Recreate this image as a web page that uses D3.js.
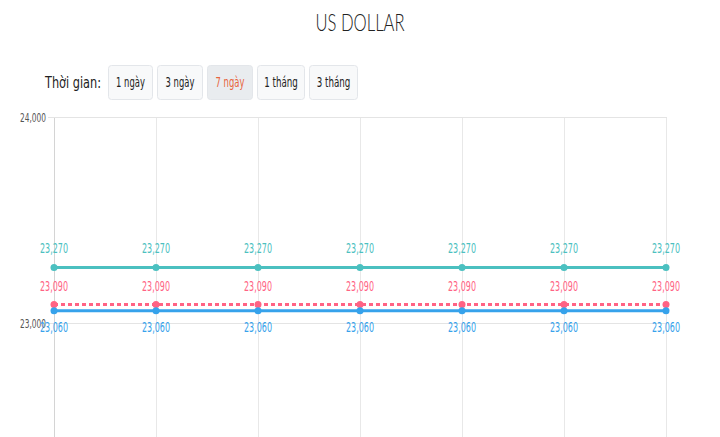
<!DOCTYPE html>
<html>
<head>
<meta charset="utf-8">
<script src="https://cdn.jsdelivr.net/npm/d3@7"></script>
<style>
  body { margin: 0; background: #fff; }
  svg { display: block; font-family: "DejaVu Sans Condensed", "DejaVu Sans", sans-serif; font-stretch: condensed; }
</style>
</head>
<body>
<svg id="chart"></svg>
<script>
// values
const days = ["d1", "d2", "d3", "d4", "d5", "d6", "d7"];
const sellValues = [23270, 23270, 23270, 23270, 23270, 23270, 23270];
const transferValues = [23090, 23090, 23090, 23090, 23090, 23090, 23090];
const buyValues = [23060, 23060, 23060, 23060, 23060, 23060, 23060];
const yTicks = [23000, 24000];
const periods = ["1 ngày", "3 ngày", "7 ngày", "1 tháng", "3 tháng"];
const activePeriod = "7 ngày";

const WIDTH = 720;
const HEIGHT = 437;

let svg = d3.select("#chart")
    .attr("width", WIDTH)
    .attr("height", HEIGHT);

// squeeze text to the narrow look of the original font
function narrow(sel, perChar) {
    sel.attr("textLength", d => String(d).length * perChar)
        .attr("lengthAdjust", "spacingAndGlyphs");
}

// title
svg.append("text")
    .attr("x", 360)
    .attr("y", 31)
    .attr("text-anchor", "middle")
    .attr("textLength", 89)
    .attr("lengthAdjust", "spacingAndGlyphs")
    .style("font-family", "Lato")
    .style("font-weight", 300)
    .style("font-size", "23px")
    .style("fill", "#222")
    .text("US DOLLAR");

// period buttons
svg.append("text")
    .attr("x", 45)
    .attr("y", 88)
    .attr("textLength", 56)
    .attr("lengthAdjust", "spacingAndGlyphs")
    .style("font-size", "16px")
    .style("fill", "#222")
    .text("Thời gian:");

const btnWidths = {"1 ngày": 44, "3 ngày": 45, "7 ngày": 45, "1 tháng": 47, "3 tháng": 48};
let btnLeft = 108;
const btns = svg.selectAll("g.btn")
    .data(periods)
    .enter()
    .append("g")
    .attr("class", "btn")
    .attr("transform", function(d) {
        const x = btnLeft;
        btnLeft += btnWidths[d] + 5;
        return "translate(" + x + ",65)";
    });
btns.append("rect")
    .attr("x", 0.5).attr("y", 0.5)
    .attr("width", d => btnWidths[d])
    .attr("height", 34)
    .attr("rx", 3)
    .style("fill", d => d === activePeriod ? "#e9ecef" : "#f8f9fa")
    .style("stroke", "#e3e6ea");
btns.append("text")
    .attr("x", d => btnWidths[d] / 2 + 0.5)
    .attr("y", 22)
    .attr("text-anchor", "middle")
    .style("font-size", "14px")
    .style("fill", d => d === activePeriod ? "#e8643c" : "#222")
    .text(d => d)
    .call(narrow, 4.8);

// scales
const x = d3.scalePoint().domain(days).range([54, 666]);
const y = d3.scaleLinear().domain([22000, 24000]).range([529, 117]);

const grid = svg.append("g");
// vertical grid lines
grid.selectAll("line.v")
    .data(days)
    .enter()
    .append("line")
    .attr("x1", d => x(d) + 0.5).attr("x2", d => x(d) + 0.5)
    .attr("y1", y(24000)).attr("y2", HEIGHT)
    .style("stroke", (d, i) => i === 0 ? "#d4d4d4" : "#e8e8e8")
    .style("stroke-width", 1);
// horizontal grid lines and ticks
grid.selectAll("line.h")
    .data(yTicks)
    .enter()
    .append("line")
    .attr("x1", 48).attr("x2", 667)
    .attr("y1", d => y(d) + 0.5).attr("y2", d => y(d) + 0.5)
    .style("stroke", "#e4e4e4");
grid.selectAll("text")
    .data(yTicks)
    .enter()
    .append("text")
    .attr("x", 46)
    .attr("y", d => y(d) + 4.5)
    .attr("text-anchor", "end")
    .style("font-size", "12.5px")
    .style("fill", "#555")
    .text(d => d3.format(",")(d))
    .attr("textLength", 26)
    .attr("lengthAdjust", "spacingAndGlyphs");

const fmt = d3.format(",");
const series = [
    {values: sellValues, color: "#4bc0c0", dash: null, labelDy: -14},
    {values: transferValues, color: "#ff6384", dash: "4,3", labelDy: -13},
    {values: buyValues, color: "#36a2eb", dash: null, labelDy: 21}
];

const line = d3.line()
    .x((d, i) => x(days[i]))
    .y(d => y(d));

series.forEach(function(s) {
    svg.append("path")
        .datum(s.values)
        .attr("d", line)
        .style("fill", "none")
        .style("stroke", s.color)
        .style("stroke-width", 3)
        .style("stroke-dasharray", s.dash);
    svg.selectAll(null)
        .data(s.values)
        .enter()
        .append("circle")
        .attr("cx", (d, i) => x(days[i]))
        .attr("cy", d => y(d))
        .attr("r", 3.5)
        .style("fill", s.color);
    svg.selectAll(null)
        .data(s.values)
        .enter()
        .append("text")
        .attr("x", (d, i) => x(days[i]))
        .attr("y", d => y(d) + s.labelDy)
        .attr("text-anchor", "middle")
        .style("font-size", "14px")
        .style("fill", s.color)
        .text(d => fmt(d))
        .attr("textLength", 28)
        .attr("lengthAdjust", "spacingAndGlyphs");
});
</script>
</body>
</html>
